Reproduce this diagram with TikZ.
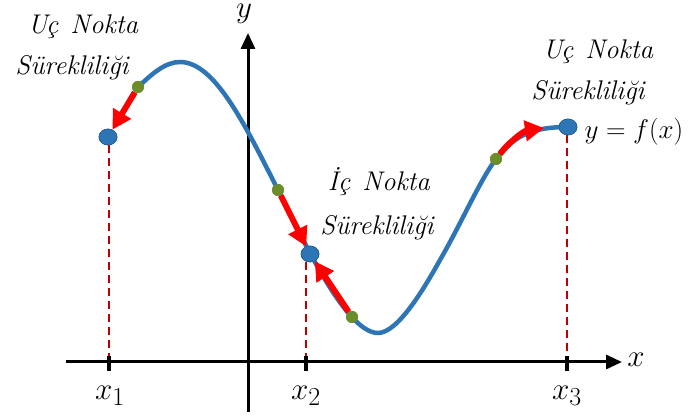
\documentclass[tikz,border=0pt]{standalone}
\usetikzlibrary{arrows.meta,shapes.geometric}
\definecolor{cblue}{RGB}{46,117,182}
\definecolor{cgreen}{RGB}{108,142,42}
\definecolor{dred}{RGB}{192,0,0}
\newcommand{\wsp}{\hspace{0.45em}}
\begin{document}
\begin{tikzpicture}[x=1pt,y=-1pt,
  axisline/.style={line width=3pt,-{Triangle[length=16pt,width=14pt]}},
  tickmark/.style={line width=4pt},
  curveline/.style={cblue,line width=4.5pt,line cap=round},
  redarrow/.style={red,line width=6pt,-{Triangle[length=19pt,width=20pt]}},
  dashline/.style={dred,line width=2.4pt,dash pattern=on 8pt off 5pt},
  bluedot/.style={ellipse,fill=cblue,draw=cblue!80!black,line width=0.6pt,minimum width=18pt,minimum height=16pt,inner sep=0pt},
  greendot/.style={circle,fill=cgreen,minimum size=12pt,inner sep=0pt},
  lbl/.style={font=\fontsize{27}{27}\selectfont\itshape,inner sep=0pt},
  mlbl/.style={font=\fontsize{24.88}{25}\selectfont,inner sep=0pt,scale=1.25}
]
\useasboundingbox (0,0) rectangle (688,419);
% axis coordinates
\coordinate (xs) at (66,362);
\coordinate (xe) at (622,362);
\coordinate (ys) at (248,412);
\coordinate (ye) at (248,33);
\coordinate (t1) at (109,362);
\coordinate (t2) at (306,362);
\coordinate (t3) at (567,362);
% dots
\node[bluedot] (b1) at (108,137) {};
\node[bluedot] (b2) at (310,254) {};
\node[bluedot] (b3) at (568,127) {};
\node[greendot] (g1) at (138,87) {};
\node[greendot] (g2) at (278,190) {};
\node[greendot] (g3) at (352,317) {};
\node[greendot] (g4) at (496,159) {};
\coordinate (a4) at (544,128);
% dashed lines
\draw[dashline] (b1.south -| t1) -- (t1);
\draw[dashline] (b2.south -| t2) -- (t2);
\draw[dashline] (b3.south -| t3) -- (t3);
% axes
\draw[axisline] (xs) -- (xe);
\draw[axisline] (ys) -- (ye);
\draw[tickmark] ([yshift=-9pt]t1) -- ([yshift=6pt]t1);
\draw[tickmark] ([yshift=-9pt]t2) -- ([yshift=6pt]t2);
\draw[tickmark] ([yshift=-9pt]t3) -- ([yshift=6pt]t3);
% curve
\draw[curveline] (g1.center) .. controls (152,74) and (165,62) .. (180,62)
  .. controls (215,62) and (245,125) .. (g2.center)
  .. controls (300,233) and (345,333) .. (378,333)
  .. controls (398,333) and (425,287) .. (440,260)
  .. controls (462,222) and (480,180) .. (g4.center)
  .. controls (515,134) and (535,127) .. (b3.center);
% red arrows
\draw[redarrow] (g1) -- (b1);
\draw[redarrow] (g2) -- (b2);
\draw[redarrow] (g3) -- (b2);
\draw[redarrow] (g4) .. controls (510,141) and (524,131) .. (a4);
% redraw dots on top
\node[bluedot] at (b1) {};
\node[bluedot] at (b2) {};
\node[bluedot] at (b3) {};
\node[greendot] at (g1) {};
\node[greendot] at (g2) {};
\node[greendot] at (g3) {};
\node[greendot] at (g4) {};
% texts
\node[lbl] (l1a) at (83,27) {Uç\wsp Nokta};
\node[lbl] (l1b) at (72,68) {Sürekliliği};
\node[lbl] (l2a) at (379,182) {İç\wsp Nokta};
\node[lbl] (l2b) at (377,228) {Sürekliliği};
\node[lbl] (l3a) at (598,52) {Uç\wsp Nokta};
\node[lbl] (l3b) at (588,93) {Sürekliliği};
\node[mlbl,scale=0.87] (fx) at (634,132) {$y=f(x)$};
\node[mlbl] (xl) at (636,360) {$x$};
\node[mlbl,anchor=north] (yl) at (244,4) {$y$};
\node[mlbl] (x1) at (110,396) {$x_1$};
\node[mlbl] (x2) at (306,396) {$x_2$};
\node[mlbl] (x3) at (567,396) {$x_3$};
\end{tikzpicture}
\end{document}
